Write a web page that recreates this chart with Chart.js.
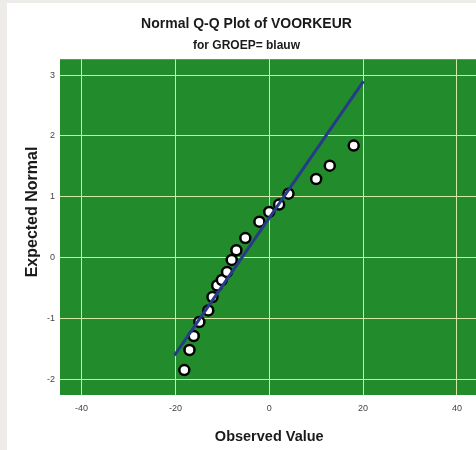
<!DOCTYPE html>
<html>
<head>
<meta charset="utf-8">
<script src="https://cdn.jsdelivr.net/npm/chart.js@4/dist/chart.umd.min.js"></script>
<style>
    html, body { margin: 0; padding: 0; background: #eeece9; overflow: hidden; }
    #panel { position: absolute; left: 7px; top: 3px; width: 480px; height: 447px; background: #fff; }
</style>
</head>
<body>
<div id="panel"><canvas id="qqChart" width="479" height="447"></canvas></div>
<script>
    // observed values and their expected normal scores
    const observedValues = [-18.1, -17.0, -16.1, -14.9, -13.0, -12.1, -11.1, -10.1, -9.0, -8.0, -7.0, -5.1, -2.1, 0.0, 2.1, 4.1, 10.0, 12.9, 18.0];
    const expectedNormal = [-1.85, -1.52, -1.29, -1.06, -0.87, -0.65, -0.46, -0.37, -0.24, -0.04, 0.12, 0.32, 0.59, 0.75, 0.87, 1.05, 1.29, 1.51, 1.84];

    // reference line end points
    const lineX = [-20.2, 20.1];
    const lineY = [-1.61, 2.9];

    const xTicks = [-40, -20, 0, 20, 40];
    const yTicks = [-2, -1, 0, 1, 2, 3];

    const fontFamily = "Liberation Sans, Arial, sans-serif";

    const plotBackground = {
        id: "plotBackground",
        beforeDraw(chart) {
            const { ctx, chartArea } = chart;
            ctx.save();
            ctx.fillStyle = "#228b2c";
            ctx.fillRect(chartArea.left, chartArea.top, chartArea.right - chartArea.left, chartArea.bottom - chartArea.top);
            ctx.restore();
        }
    };

    // vertical axis caption, sits a bit above the middle of the plot
    const yCaption = {
        id: "yCaption",
        afterDraw(chart) {
            const { ctx } = chart;
            ctx.save();
            ctx.translate(26, 209);
            ctx.rotate(-Math.PI / 2);
            ctx.font = "bold 16px " + fontFamily;
            ctx.fillStyle = "#1a1a1a";
            ctx.textAlign = "center";
            ctx.textBaseline = "middle";
            ctx.fillText("Expected Normal", 0, 0);
            ctx.restore();
        }
    };

    const ctx = document.getElementById("qqChart").getContext("2d");
    new Chart(ctx, {
        data: {
            datasets: [
                {
                    type: "line",
                    data: lineX.map((x, i) => ({ x, y: lineY[i] })),
                    borderColor: "#263c88",
                    borderWidth: 3,
                    pointRadius: 0,
                    order: 0,
                },
                {
                    type: "scatter",
                    data: observedValues.map((x, i) => ({ x, y: expectedNormal[i] })),
                    backgroundColor: "#ffffff",
                    borderColor: "#000000",
                    borderWidth: 2.5,
                    pointRadius: 5,
                    order: 1,
                },
            ],
        },
        plugins: [plotBackground, yCaption],
        options: {
            responsive: false,
            animation: false,
            layout: { padding: 0 },
            plugins: {
                legend: { display: false },
                tooltip: { enabled: false },
                title: {
                    display: true,
                    text: "Normal Q-Q Plot of VOORKEUR",
                    color: "#1a1a1a",
                    font: { family: fontFamily, size: 14, weight: "bold" },
                    padding: { top: 13, bottom: 6 },
                },
                subtitle: {
                    display: true,
                    text: "for GROEP= blauw",
                    color: "#1a1a1a",
                    font: { family: fontFamily, size: 12, weight: "bold" },
                    padding: { top: 0, bottom: 6 },
                },
            },
            scales: {
                x: {
                    type: "linear",
                    min: -44.6,
                    max: 44.6,
                    afterBuildTicks: (scale) => { scale.ticks = xTicks.map((v) => ({ value: v })); },
                    afterFit: (scale) => { scale.height = 55; },
                    grid: { color: "#d4e8a8", lineWidth: 1, drawTicks: false },
                    border: { display: false },
                    ticks: {
                        color: "#444",
                        padding: 8,
                        font: { family: fontFamily, size: 9 },
                    },
                    title: {
                        display: true,
                        text: "Observed Value",
                        color: "#1a1a1a",
                        font: { family: fontFamily, size: 14.5, weight: "bold" },
                        padding: { top: 2 },
                    },
                },
                y: {
                    type: "linear",
                    min: -2.26,
                    max: 3.26,
                    afterBuildTicks: (scale) => { scale.ticks = yTicks.map((v) => ({ value: v })); },
                    afterFit: (scale) => { scale.width = 53; },
                    grid: { color: "#d4e8a8", lineWidth: 1, drawTicks: false },
                    border: { display: false },
                    ticks: {
                        color: "#444",
                        padding: 5,
                        font: { family: fontFamily, size: 9 },
                    },
                },
            },
        },
    });
</script>
</body>
</html>
